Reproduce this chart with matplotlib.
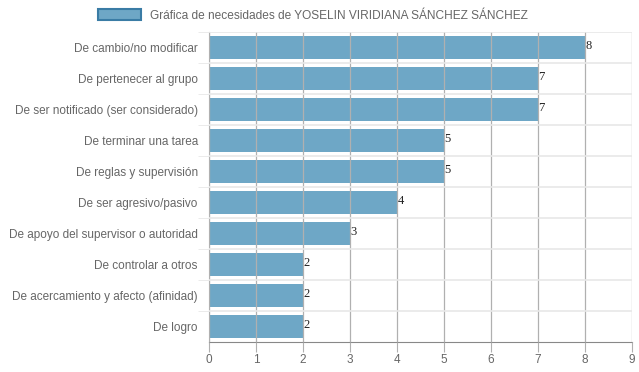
import matplotlib.pyplot as plt
from matplotlib.patches import Patch

categorias = [
    "De cambio/no modificar",
    "De pertenecer al grupo",
    "De ser notificado (ser considerado)",
    "De terminar una tarea",
    "De reglas y supervisión",
    "De ser agresivo/pasivo",
    "De apoyo del supervisor o autoridad",
    "De controlar a otros",
    "De acercamiento y afecto (afinidad)",
    "De logro",
]
valores = [8, 7, 7, 5, 5, 4, 3, 2, 2, 2]
titulo = "Gráfica de necesidades de YOSELIN VIRIDIANA SÁNCHEZ SÁNCHEZ"

plt.rcParams["font.family"] = ["Liberation Sans", "DejaVu Sans"]

fig = plt.figure(figsize=(6.39, 3.72), dpi=100)
ax = fig.add_axes([0.327, 0.081, 0.662, 0.833])

pos = list(range(len(categorias)))
bar_color = (62 / 255, 138 / 255, 179 / 255, 0.75)
ax.barh(pos, valores, height=0.72, color=bar_color, zorder=1)

for y, v in zip(pos, valores):
    ax.text(v + 0.01, y - 0.05, str(v), va="center", ha="left", fontsize=9,
            family="Liberation Serif", color="#222222", zorder=3)

ax.set_xlim(0, 9)
ax.set_ylim(len(categorias) - 0.5, -0.5)
ax.set_xticks(range(10))
ax.set_yticks(pos)
ax.set_yticklabels(categorias)
ax.set_yticks([p + 0.5 for p in pos[:-1]] + [-0.5], minor=True)

ax.grid(axis="x", color="#b0b0b0", linewidth=0.9, zorder=2)
ax.grid(axis="y", which="minor", color="#e8e8e8", linewidth=1.2, zorder=0)
ax.set_axisbelow(False)

for s in ["top", "right"]:
    ax.spines[s].set_visible(False)
ax.spines["left"].set_color("#b0b0b0")
ax.spines["bottom"].set_color("#888888")

ax.tick_params(axis="x", colors="#b0b0b0", labelcolor="#666666", labelsize=8.5, length=7, pad=2)
ax.tick_params(axis="y", which="major", length=0, labelcolor="#666666", labelsize=8.5, pad=8)
ax.tick_params(axis="y", which="minor", length=8, color="#e8e8e8")

handle = Patch(facecolor=bar_color, edgecolor="#3a7ca5", linewidth=1.5)
fig.legend([handle], [titulo], loc="upper center", bbox_to_anchor=(0.49, 1.005),
           frameon=False, fontsize=8.6, handlelength=3.6, handleheight=1.1,
           labelcolor="#666666")

fig.savefig("out.png", dpi=100)
